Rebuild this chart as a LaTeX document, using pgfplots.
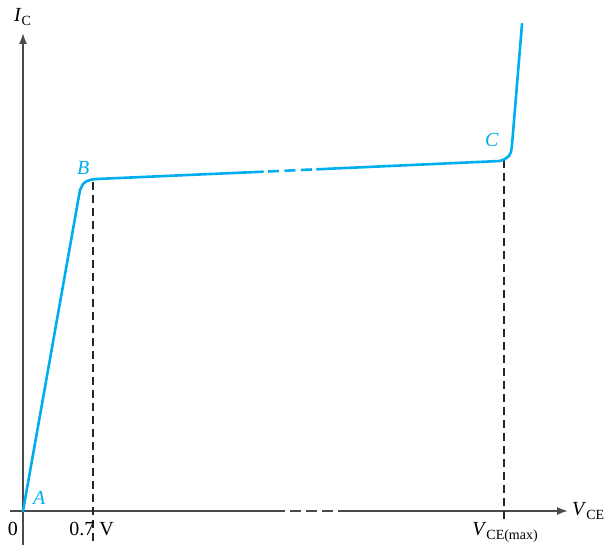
\documentclass[border=0pt]{standalone}
\usepackage{pgfplots}
\pgfplotsset{compat=1.18}
\usetikzlibrary{arrows.meta}
\usepackage{fontspec}
\setmainfont{Liberation Serif}
\definecolor{curvec}{HTML}{00AEEF}
\definecolor{axisc}{HTML}{4A4A4A}
\newcommand{\sub}[1]{\raisebox{-4pt}{\fontsize{14}{14}\selectfont #1}}
\begin{document}
\begin{tikzpicture}
\begin{axis}[
  scale only axis, width=605pt, height=545pt,
  xmin=-23, xmax=582, ymin=-34, ymax=511,
  hide axis, clip=false,
  font=\fontsize{20}{24}\selectfont,
]
% axes
\addplot[axisc, line width=1.8pt, no marks] coordinates {(-13,0) (262,0)};
\addplot[axisc, line width=1.8pt, no marks, dash pattern=on 11pt off 5pt] coordinates {(267,0) (310,0)};
\addplot[axisc, line width=1.8pt, no marks, -{Latex[length=11pt,width=8pt]}] coordinates {(315,0) (545,0)};
\addplot[axisc, line width=1.8pt, no marks, -{Latex[length=11pt,width=8pt]}] coordinates {(0,-34) (0,478)};
% dashed guides
\addplot[black!85, line width=1.3pt, no marks, dash pattern=on 8pt off 5pt] coordinates {(70,329) (70,-34)};
\addplot[black!85, line width=1.3pt, no marks, dash pattern=on 8pt off 5pt] coordinates {(481,351) (481,-10)};
% curve
\addplot[curvec, line width=2.6pt, no marks, line join=round, line cap=round] coordinates {
 (0,0) (57,321) (60,327) (64,330) (69,331.5) (74,332) (240,339.3)};
\addplot[curvec, line width=2.6pt, no marks, dash pattern=on 11pt off 5.5pt] coordinates {
 (245,339.5) (289,341.5)};
\addplot[curvec, line width=2.6pt, no marks, line join=round, line cap=round] coordinates {
 (294,341.7) (477,350) (482,352) (486,355) (488,359) (489,366) (499,487)};
% labels
\node[anchor=base west, inner sep=0pt] at (axis cs:-9,489) {\textit{I}\sub{C}};
\node[anchor=base east, inner sep=0pt] at (axis cs:-5,-25) {0};
\node[anchor=base, inner sep=0pt] at (axis cs:68.5,-25) {0.7 V};
\node[anchor=base, inner sep=0pt] at (axis cs:482,-25) {\textit{V}\sub{CE(max)}};
\node[anchor=base west, inner sep=0pt] at (axis cs:549,-5) {\textit{V}\sub{CE}};
\node[anchor=base west, inner sep=0pt, text=curvec] at (axis cs:10,6) {\textit{A}};
\node[anchor=base west, inner sep=0pt, text=curvec] at (axis cs:54,336) {\textit{B}};
\node[anchor=base west, inner sep=0pt, text=curvec] at (axis cs:462,364) {\textit{C}};
\coordinate (ll) at (axis cs:-23,-34);
\coordinate (ur) at (axis cs:582,511);
\end{axis}
\pgfresetboundingbox
\path[use as bounding box] (ll) rectangle (ur);
\end{tikzpicture}
\end{document}
